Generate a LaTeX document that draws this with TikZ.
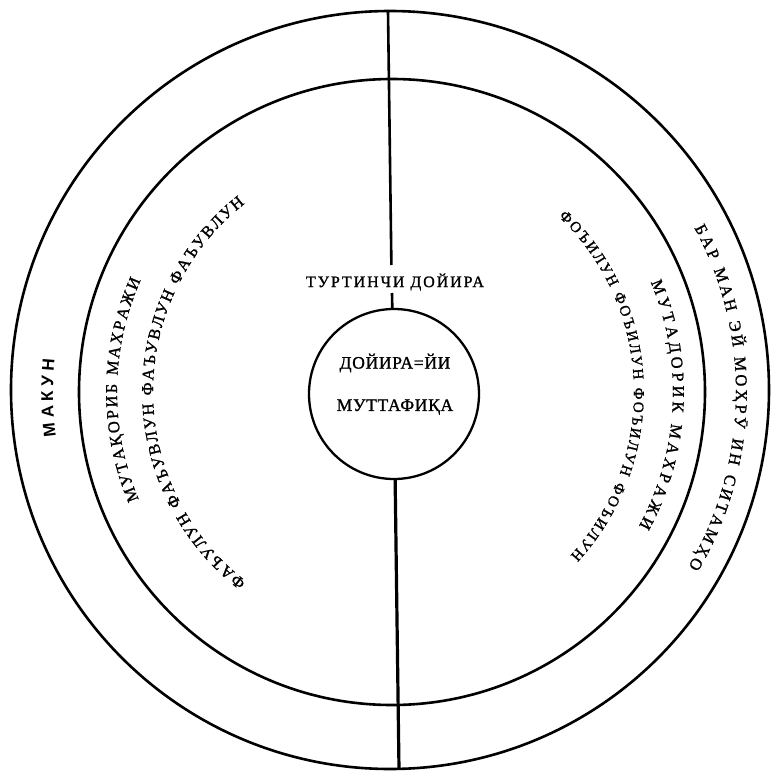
\documentclass[tikz,border=0pt]{standalone}
\usepackage{fontspec}
\setmainfont{Liberation Serif}
\newfontfamily\heavyfam{Liberation Serif}[FakeBold=1.2]
\newfontfamily\sansfam{Liberation Sans}
\usetikzlibrary{decorations.text}
\newcommand\arcf{\heavyfam\fontsize{16.5pt}{18pt}\selectfont}
\newcommand\arcsf{\heavyfam\fontsize{15pt}{17pt}\selectfont}
\newcommand\makf{\sansfam\bfseries\fontsize{17pt}{19pt}\selectfont}
\begin{document}
\begin{tikzpicture}[x=1pt,y=1pt,
  ring/.style={circle, draw, line width=2.6pt, inner sep=0pt},
  rule/.style={line width=2.6pt},
  arctext/.style={decorate, decoration={text along path, text align={fit to path}, text={#1}}},
  lbltext/.style={inner sep=0pt, font=\heavyfam\addfontfeature{LetterSpace=12}\fontsize{16pt}{18pt}\selectfont},
  hubtext/.style={inner sep=0pt, font=\heavyfam\addfontfeature{LetterSpace=4}\fontsize{17.5pt}{19pt}\selectfont}]
\useasboundingbox (-390,-382) rectangle (389,390);
\fill[white] (-390,-382) rectangle (389,390);
% circles
\node[ring, minimum size=758pt] (outer) at (0,0) {};
\node[ring, minimum size=626pt] (inner) at (2,-2) {};
\node[ring, minimum size=170pt, line width=2.3pt] (hub) at (4,-4) {};
% labels
\node[lbltext] (lbl) at (5,108) {ТУРТИНЧИ ДОЙИРА};
\node[hubtext] (hubA) at (5,27) {ДОЙИРА=ЙИ};
\node[hubtext] (hubB) at (5,-17) {МУТТАФИҚА};
% vertical line
\coordinate (ltop) at (-2,379);
\coordinate (lblN) at (1.4,125);
\coordinate (lblS) at (2,97);
\coordinate (lbot) at (9,-379);
\draw[rule] (ltop) -- (lblN);
\draw[rule] (lblS) -- (hub);
\draw[rule, line width=3.2pt] (hub) -- (lbot);
% arc texts
\coordinate (C) at (2,-2);
\path[arctext={|\makf|МАКУН}] (C) ++(187.5:339) arc[start angle=187.5, end angle=174.5, radius=339];
\path[arctext={|\arcf|МУТАҚОРИБ МАХРАЖИ}] (C) ++(203:275) arc[start angle=203, end angle=156, radius=275];
\path[arctext={|\arcf|ФАЪУЛУН ФАЪУВЛУН ФАЪУВЛУН ФАЪУВЛУН}] (C) ++(232.5:239) arc[start angle=232.5, end angle=128, radius=239];
\path[arctext={|\arcsf|ФОЪИЛУН ФОЪИЛУН ФОЪИЛУН ФОЪИЛУН}] (C) ++(46.5:242) arc[start angle=46.5, end angle=-42.5, radius=242];
\path[arctext={|\arcf|МУТАДОРИК МАХРАЖИ}] (C) ++(23:281) arc[start angle=23, end angle=-28.5, radius=281];
\path[arctext={|\arcf|БАР МАН ЭЙ МОҲРӮ ИН СИТАМҲО}] (C) ++(28.5:344) arc[start angle=28.5, end angle=-30.5, radius=344];
\end{tikzpicture}
\end{document}
